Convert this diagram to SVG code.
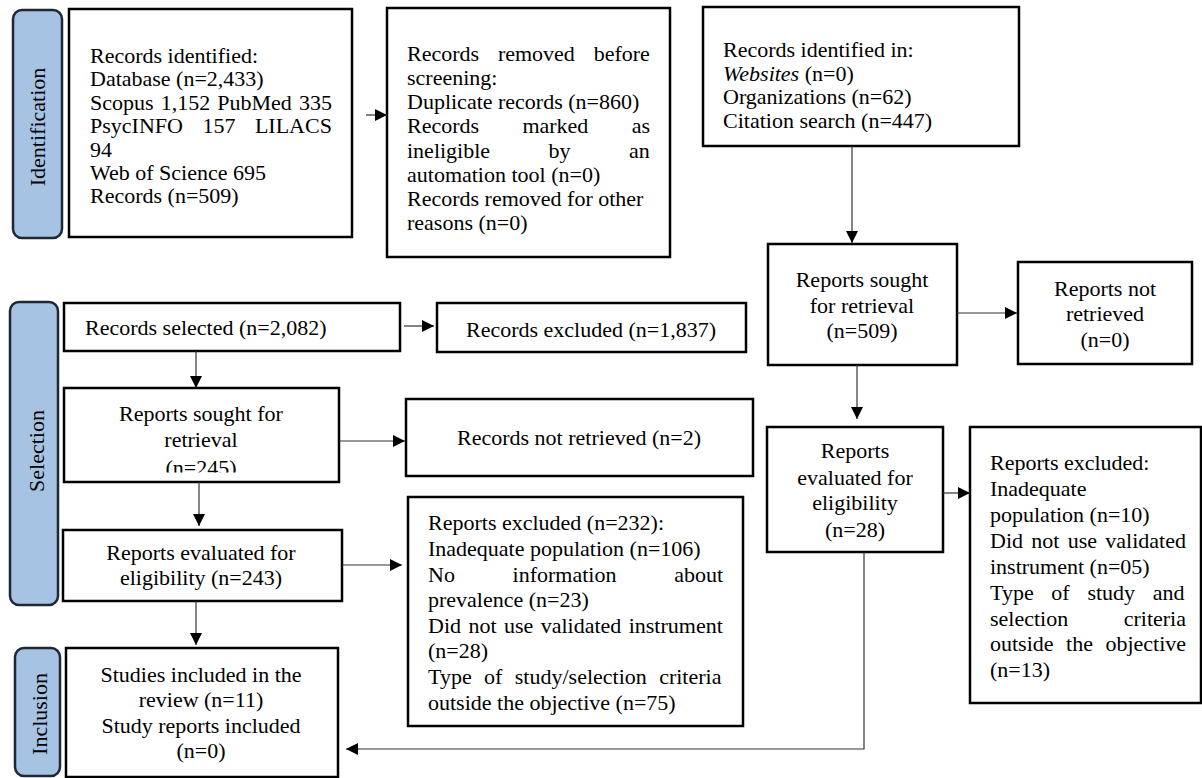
<svg xmlns="http://www.w3.org/2000/svg" width="1202" height="778" viewBox="0 0 1202 778">
<style>
text{font-family:"Liberation Serif","Times New Roman",serif;font-size:22px;fill:#000}
.box{fill:#fff;stroke:#000;stroke-width:2.5}
.tab{fill:#a6c3e3;stroke:#1e2733;stroke-width:2.5}
.c{text-anchor:middle}
.con{fill:none;stroke:#333;stroke-width:1.2}
</style>
<defs>
<marker id="ah" markerUnits="userSpaceOnUse" markerWidth="13" markerHeight="12" refX="12" refY="6" orient="auto">
<path d="M0,0 L12,6 L0,12 z" fill="#000"/>
</marker>
<clipPath id="clipRS"><rect x="60" y="385" width="290" height="87.5"/></clipPath>
</defs>
<rect width="1202" height="778" fill="#fff"/>

<g id="tab-identification">
<rect class="tab" x="13" y="10" width="49" height="228" rx="9"/>
<text class="c" transform="translate(45,127) rotate(-90)">Identification</text>
</g>
<g id="tab-selection">
<rect class="tab" x="10" y="302" width="48" height="303" rx="9"/>
<text class="c" transform="translate(44,451) rotate(-90)">Selection</text>
</g>
<g id="tab-inclusion">
<rect class="tab" x="15" y="648" width="45" height="128" rx="9"/>
<text class="c" transform="translate(47,714) rotate(-90)">Inclusion</text>
</g>

<g id="records-identified">
<rect class="box" x="69" y="9" width="283" height="228"/>
<text x="90" y="63">Records identified:</text>
<text x="90" y="86">Database (n=2,433)</text>
<text x="90" y="110" word-spacing="1.6">Scopus 1,152 PubMed 335</text>
<text x="90" y="133" word-spacing="14">PsycINFO 157 LILACS</text>
<text x="90" y="157">94</text>
<text x="90" y="180">Web of Science 695</text>
<text x="90" y="203">Records (n=509)</text>
</g>

<g id="records-removed">
<rect class="box" x="387" y="8" width="283" height="249"/>
<text x="407" y="61" word-spacing="13.3">Records removed before</text>
<text x="407" y="85">screening:</text>
<text x="407" y="109">Duplicate records (n=860)</text>
<text x="407" y="133" word-spacing="37.8">Records marked as</text>
<text x="407" y="158" word-spacing="53">ineligible by an</text>
<text x="407" y="182">automation tool (n=0)</text>
<text x="407" y="206">Records removed for other</text>
<text x="407" y="230">reasons (n=0)</text>
</g>

<g id="records-identified-in">
<rect class="box" x="703" y="7" width="316" height="139"/>
<text x="723" y="57">Records identified in:</text>
<text x="723" y="81"><tspan font-style="italic">Websites</tspan> (n=0)</text>
<text x="723" y="104">Organizations (n=62)</text>
<text x="723" y="128">Citation search (n=447)</text>
</g>

<g id="reports-sought-right">
<rect class="box" x="768" y="244" width="189" height="121"/>
<text class="c" x="862" y="287">Reports sought</text>
<text class="c" x="862" y="313">for retrieval</text>
<text class="c" x="862" y="338">(n=509)</text>
</g>

<g id="reports-not-retrieved">
<rect class="box" x="1018" y="262" width="174" height="102"/>
<text class="c" x="1105" y="296">Reports not</text>
<text class="c" x="1105" y="321">retrieved</text>
<text class="c" x="1105" y="347">(n=0)</text>
</g>

<g id="reports-evaluated-right">
<rect class="box" x="767" y="427" width="176" height="125"/>
<text class="c" x="855" y="458">Reports</text>
<text class="c" x="855" y="485">evaluated for</text>
<text class="c" x="855" y="510">eligibility</text>
<text class="c" x="855" y="537">(n=28)</text>
</g>

<g id="reports-excluded-right">
<rect class="box" x="970" y="427" width="231" height="276"/>
<text x="990" y="470">Reports excluded:</text>
<text x="990" y="496">Inadequate</text>
<text x="990" y="522">population (n=10)</text>
<text x="990" y="548" word-spacing="2.8">Did not use validated</text>
<text x="990" y="574">instrument (n=05)</text>
<text x="990" y="600" word-spacing="12.2">Type of study and</text>
<text x="990" y="626" word-spacing="50">selection criteria</text>
<text x="990" y="651" word-spacing="7">outside the objective</text>
<text x="990" y="677">(n=13)</text>
</g>

<g id="records-selected">
<rect class="box" x="64" y="303" width="336" height="48"/>
<text x="85" y="335">Records selected (n=2,082)</text>
</g>

<g id="records-excluded">
<rect class="box" x="437" y="303" width="309" height="49"/>
<text class="c" x="591" y="337">Records excluded (n=1,837)</text>
</g>

<g id="reports-sought-left">
<rect class="box" x="64" y="388" width="275" height="94"/>
<text class="c" x="201" y="421">Reports sought for</text>
<text class="c" x="201" y="447">retrieval</text>
<text class="c" x="201" y="475" clip-path="url(#clipRS)">(n=245)</text>
</g>

<g id="records-not-retrieved">
<rect class="box" x="406" y="399" width="347" height="77"/>
<text class="c" x="579" y="445">Records not retrieved (n=2)</text>
</g>

<g id="reports-evaluated-left">
<rect class="box" x="63" y="530" width="279" height="71"/>
<text class="c" x="201" y="560">Reports evaluated for</text>
<text class="c" x="201" y="585">eligibility (n=243)</text>
</g>

<g id="reports-excluded-left">
<rect class="box" x="408" y="497" width="335" height="229"/>
<text x="428" y="530">Reports excluded (n=232):</text>
<text x="428" y="556">Inadequate population (n=106)</text>
<text x="428" y="582" word-spacing="52.2">No information about</text>
<text x="428" y="607">prevalence (n=23)</text>
<text x="428" y="633" word-spacing="1.9">Did not use validated instrument</text>
<text x="428" y="658">(n=28)</text>
<text x="428" y="684" word-spacing="6.9">Type of study/selection criteria</text>
<text x="428" y="710">outside the objective (n=75)</text>
</g>

<g id="studies-included">
<rect class="box" x="66" y="648" width="272" height="129"/>
<text class="c" x="201" y="682">Studies included in the</text>
<text class="c" x="201" y="707">review (n=11)</text>
<text class="c" x="201" y="733">Study reports included</text>
<text class="c" x="201" y="758">(n=0)</text>
</g>

<g id="connectors">
<path class="con" d="M366,115 H387" marker-end="url(#ah)"/>
<path class="con" d="M852,146 V243" marker-end="url(#ah)"/>
<path class="con" d="M957,313 H1017" marker-end="url(#ah)"/>
<path class="con" d="M857,365 V419" marker-end="url(#ah)"/>
<path class="con" d="M943,493 H970" marker-end="url(#ah)"/>
<path class="con" d="M864,552 V749 H346" marker-end="url(#ah)"/>
<path class="con" d="M404,326 H434" marker-end="url(#ah)"/>
<path class="con" d="M196,351 V388" marker-end="url(#ah)"/>
<path class="con" d="M339,441 H405" marker-end="url(#ah)"/>
<path class="con" d="M199,482 V526" marker-end="url(#ah)"/>
<path class="con" d="M342,565 H402" marker-end="url(#ah)"/>
<path class="con" d="M196,601 V645" marker-end="url(#ah)"/>
</g>
</svg>
